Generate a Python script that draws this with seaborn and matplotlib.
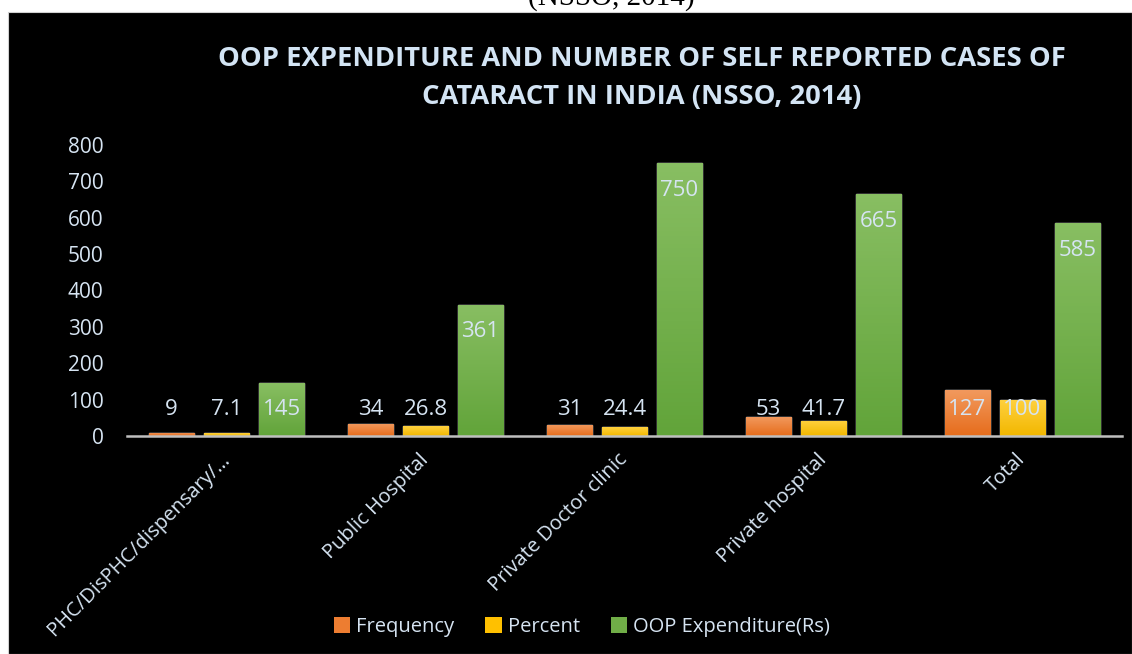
import numpy as np
import pandas as pd
import matplotlib
matplotlib.use("Agg")
import matplotlib.pyplot as plt
import seaborn as sns
from matplotlib.patches import Patch, Rectangle
from matplotlib.colors import LinearSegmentedColormap

# ---- data ----
categories = ["PHC/DisPHC/dispensary/\u2026", "Public Hospital", "Private Doctor clinic",
              "Private hospital", "Total"]
series_names = ["Frequency", "Percent", "OOP Expenditure(Rs)"]
frequency = [9, 34, 31, 53, 127]
percent = [7.1, 26.8, 24.4, 41.7, 100]
oop_expenditure = [145, 361, 750, 665, 585]
y_ticks = [0, 100, 200, 300, 400, 500, 600, 700, 800]
title = "OOP EXPENDITURE AND NUMBER OF SELF REPORTED CASES OF\nCATARACT IN INDIA (NSSO, 2014)"

df = pd.DataFrame({
    "category": categories * 3,
    "series": [series_names[0]] * 5 + [series_names[1]] * 5 + [series_names[2]] * 5,
    "value": frequency + percent + oop_expenditure,
})

# ---- style ----
sns.set_style("dark")
plt.rcParams["font.family"] = ["Open Sans", "DejaVu Sans"]
TXT = "#d6e4f2"
base_colors = ["#ED7D31", "#FFC000", "#70AD47"]
grad = [("#F29A5F", "#E66D1C"), ("#FFD13F", "#F2B700"), ("#88BE62", "#62A43A")]

W, H = 1132, 654
fig = plt.figure(figsize=(W / 100, H / 100), dpi=100, facecolor="white")
fig.patches.append(Rectangle((8 / W, 0), 1 - 8 / W, 1 - 12 / H, transform=fig.transFigure,
                             facecolor="black", edgecolor="#d0d0d0", lw=0.8, zorder=-10))
fig.text(611 / W, 1 - 5 / H, "(NSSO, 2014)", ha="center", va="baseline",
         family="Liberation Serif", fontsize=21, color="black")

ax = fig.add_axes([127 / W, (H - 436) / H, (1122 - 127) / W, (436 - 145) / H])
ax.set_facecolor("none")

sns.barplot(data=df, x="category", y="value", hue="series", order=categories,
            hue_order=series_names, palette=base_colors, width=0.83, gap=0.18,
            ax=ax, legend=False, saturation=1)

ax.set_xlim(-0.5, len(categories) - 0.5)
ax.set_ylim(0, 800)
ax.set_yticks(y_ticks)
ax.set_yticklabels([str(t) for t in y_ticks])
ax.set_xlabel("")
ax.set_ylabel("")
ax.grid(False)
for s in ["left", "right", "top"]:
    ax.spines[s].set_visible(False)
ax.spines["bottom"].set_color("#bfbfbf")
ax.spines["bottom"].set_linewidth(1.8)
ax.tick_params(axis="y", length=0, pad=17, labelsize=15, labelcolor=TXT)
ax.tick_params(axis="x", length=0, pad=15, labelsize=14.5, labelcolor=TXT)
for lab in ax.get_xticklabels():
    lab.set_rotation(45)
    lab.set_rotation_mode("anchor")
    lab.set_ha("right")
    lab.set_va("center")

# gradient fills + data labels
for ci, cont in enumerate(ax.containers):
    cmap = LinearSegmentedColormap.from_list("g%d" % ci, [grad[ci][1], grad[ci][0]])
    for bar, val in zip(cont.patches, cont.datavalues):
        x0, w, h = bar.get_x(), bar.get_width(), bar.get_height()
        im = ax.imshow(np.linspace(0, 1, 64).reshape(-1, 1), cmap=cmap, aspect="auto",
                       extent=(x0, x0 + w, 0, h), origin="lower", zorder=bar.get_zorder() + 0.1)
        im.set_clip_path(bar)
        ly = max(val - 74, 71.5)
        ax.text(x0 + w / 2, ly, "{:g}".format(val), ha="center", va="center",
                fontsize=16, color=TXT, zorder=5)
ax.set_xlim(-0.5, len(categories) - 0.5)
ax.set_ylim(0, 800)

fig.text(642 / W, 1 - 78 / H, title, ha="center", va="center", fontsize=19.7,
         fontweight="bold", color="#d3e4f4", linespacing=1.6)

handles = [Patch(facecolor=c, edgecolor="none") for c in base_colors]
fig.legend(handles, series_names, loc="center", bbox_to_anchor=(582 / W, 1 - 627 / H),
           ncol=3, frameon=False, fontsize=14.5, handlelength=0.8, handleheight=0.8,
           handletextpad=0.3, columnspacing=1.55, labelcolor=TXT)

fig.savefig("out.png", dpi=100, facecolor=fig.get_facecolor())
